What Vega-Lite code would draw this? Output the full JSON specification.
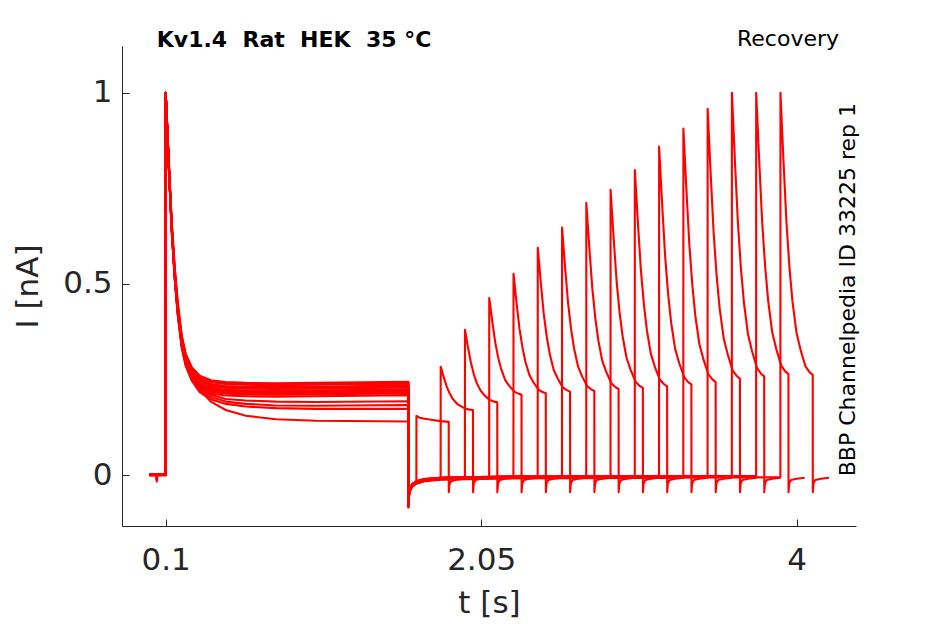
{
  "$schema": "https://vega.github.io/schema/vega-lite/v6.json",
  "width": 734,
  "height": 480,
  "autosize": {"type": "none"},
  "padding": {"left": 122, "top": 46, "right": 89, "bottom": 98},
  "background": "white",
  "config": {"view": {"stroke": null}, "font": "DejaVu Sans"},
  "layer": [
    {
      "data": {"values": [
        {"k":1,"t":0,"i":0.001},{"k":1,"t":0.042,"i":0},{"k":1,"t":0.045,"i":-0.017},{"k":1,"t":0.048,"i":0},{"k":1,"t":0.0995,"i":0.001},{"k":1,"t":0.1,"i":1},
        {"k":1,"t":0.1062,"i":0.942},{"k":1,"t":0.1186,"i":0.825},{"k":1,"t":0.1371,"i":0.666},{"k":1,"t":0.1557,"i":0.546},{"k":1,"t":0.1743,"i":0.453},{"k":1,"t":0.199,"i":0.365},{"k":1,"t":0.2238,"i":0.311},{"k":1,"t":0.261,"i":0.261},{"k":1,"t":0.3105,"i":0.223},{"k":1,"t":0.3786,"i":0.192},{"k":1,"t":0.4714,"i":0.17},{"k":1,"t":0.5952,"i":0.155},{"k":1,"t":0.781,"i":0.146},{"k":1,"t":1.029,"i":0.142},{"k":1,"t":1.6,"i":0.14},
        {"k":1,"t":1.6005,"i":-0.082},{"k":1,"t":1.604,"i":-0.052},{"k":1,"t":1.612,"i":-0.038},{"k":1,"t":1.625,"i":-0.03},{"k":1,"t":1.6495,"i":-0.022},
        {"k":1,"t":1.65,"i":0.155},{"k":1,"t":1.656,"i":0.153},{"k":1,"t":1.67,"i":0.15},{"k":1,"t":1.7,"i":0.147},{"k":1,"t":1.75,"i":0.144},{"k":1,"t":1.8,"i":0.141},{"k":1,"t":1.8495,"i":0.139},{"k":1,"t":1.85,"i":-0.045},{"k":1,"t":1.854,"i":-0.024},{"k":1,"t":1.865,"i":-0.016},{"k":1,"t":1.9,"i":-0.012},{"k":1,"t":1.95,"i":-0.009},

        {"k":2,"t":0,"i":0},{"k":2,"t":0.042,"i":0},{"k":2,"t":0.045,"i":-0.015},{"k":2,"t":0.048,"i":0},{"k":2,"t":0.0995,"i":0},{"k":2,"t":0.1,"i":1},
        {"k":2,"t":0.1062,"i":0.939},{"k":2,"t":0.1186,"i":0.816},{"k":2,"t":0.1371,"i":0.647},{"k":2,"t":0.1557,"i":0.523},{"k":2,"t":0.1743,"i":0.428},{"k":2,"t":0.199,"i":0.34},{"k":2,"t":0.2238,"i":0.289},{"k":2,"t":0.261,"i":0.247},{"k":2,"t":0.3105,"i":0.217},{"k":2,"t":0.3786,"i":0.198},{"k":2,"t":0.4714,"i":0.186},{"k":2,"t":0.5952,"i":0.179},{"k":2,"t":0.781,"i":0.175},{"k":2,"t":1.029,"i":0.173},{"k":2,"t":1.6,"i":0.173},
        {"k":2,"t":1.6005,"i":-0.078},{"k":2,"t":1.604,"i":-0.05},{"k":2,"t":1.612,"i":-0.036},{"k":2,"t":1.625,"i":-0.027},{"k":2,"t":1.65,"i":-0.02},{"k":2,"t":1.7,"i":-0.014},{"k":2,"t":1.7995,"i":-0.01},
        {"k":2,"t":1.8,"i":0.283},{"k":2,"t":1.8062,"i":0.274},{"k":2,"t":1.8186,"i":0.256},{"k":2,"t":1.8371,"i":0.231},{"k":2,"t":1.8557,"i":0.213},{"k":2,"t":1.8743,"i":0.199},{"k":2,"t":1.899,"i":0.187},{"k":2,"t":1.9238,"i":0.18},{"k":2,"t":1.9548,"i":0.173},{"k":2,"t":1.9795,"i":0.171},{"k":2,"t":1.9995,"i":0.17},{"k":2,"t":2.0,"i":-0.045},{"k":2,"t":2.004,"i":-0.022},{"k":2,"t":2.015,"i":-0.013},{"k":2,"t":2.05,"i":-0.01},{"k":2,"t":2.1,"i":-0.007},

        {"k":3,"t":0,"i":0.002},{"k":3,"t":0.0995,"i":0.002},{"k":3,"t":0.1,"i":1},
        {"k":3,"t":0.1062,"i":0.939},{"k":3,"t":0.1186,"i":0.816},{"k":3,"t":0.1371,"i":0.648},{"k":3,"t":0.1557,"i":0.524},{"k":3,"t":0.1743,"i":0.43},{"k":3,"t":0.199,"i":0.343},{"k":3,"t":0.2238,"i":0.292},{"k":3,"t":0.261,"i":0.251},{"k":3,"t":0.3105,"i":0.222},{"k":3,"t":0.3786,"i":0.204},{"k":3,"t":0.4714,"i":0.192},{"k":3,"t":0.5952,"i":0.186},{"k":3,"t":0.781,"i":0.182},{"k":3,"t":1.029,"i":0.181},{"k":3,"t":1.6,"i":0.183},
        {"k":3,"t":1.6005,"i":-0.085},{"k":3,"t":1.604,"i":-0.055},{"k":3,"t":1.612,"i":-0.04},{"k":3,"t":1.625,"i":-0.03},{"k":3,"t":1.65,"i":-0.022},{"k":3,"t":1.7,"i":-0.015},{"k":3,"t":1.8,"i":-0.01},{"k":3,"t":1.9495,"i":-0.008},
        {"k":3,"t":1.95,"i":0.38},{"k":3,"t":1.9562,"i":0.365},{"k":3,"t":1.9686,"i":0.334},{"k":3,"t":1.9871,"i":0.293},{"k":3,"t":2.0057,"i":0.262},{"k":3,"t":2.0243,"i":0.239},{"k":3,"t":2.049,"i":0.219},{"k":3,"t":2.0738,"i":0.207},{"k":3,"t":2.1048,"i":0.196},{"k":3,"t":2.1295,"i":0.192},{"k":3,"t":2.1495,"i":0.19},{"k":3,"t":2.15,"i":-0.045},{"k":3,"t":2.154,"i":-0.022},{"k":3,"t":2.165,"i":-0.013},{"k":3,"t":2.2,"i":-0.01},{"k":3,"t":2.25,"i":-0.007},

        {"k":4,"t":0,"i":-0.001},{"k":4,"t":0.042,"i":0},{"k":4,"t":0.045,"i":-0.012},{"k":4,"t":0.048,"i":0},{"k":4,"t":0.0995,"i":0},{"k":4,"t":0.1,"i":1},
        {"k":4,"t":0.1062,"i":0.939},{"k":4,"t":0.1186,"i":0.815},{"k":4,"t":0.1371,"i":0.647},{"k":4,"t":0.1557,"i":0.523},{"k":4,"t":0.1743,"i":0.429},{"k":4,"t":0.199,"i":0.342},{"k":4,"t":0.2238,"i":0.293},{"k":4,"t":0.261,"i":0.252},{"k":4,"t":0.3105,"i":0.226},{"k":4,"t":0.3786,"i":0.21},{"k":4,"t":0.4714,"i":0.199},{"k":4,"t":0.5952,"i":0.195},{"k":4,"t":0.781,"i":0.192},{"k":4,"t":1.029,"i":0.191},{"k":4,"t":1.6,"i":0.193},
        {"k":4,"t":1.6005,"i":-0.075},{"k":4,"t":1.604,"i":-0.046},{"k":4,"t":1.612,"i":-0.032},{"k":4,"t":1.625,"i":-0.024},{"k":4,"t":1.65,"i":-0.017},{"k":4,"t":1.7,"i":-0.011},{"k":4,"t":1.8,"i":-0.007},{"k":4,"t":2.0995,"i":-0.005},
        {"k":4,"t":2.1,"i":0.463},{"k":4,"t":2.1062,"i":0.443},{"k":4,"t":2.1186,"i":0.402},{"k":4,"t":2.1371,"i":0.347},{"k":4,"t":2.1557,"i":0.306},{"k":4,"t":2.1743,"i":0.276},{"k":4,"t":2.199,"i":0.248},{"k":4,"t":2.2238,"i":0.233},{"k":4,"t":2.2548,"i":0.218},{"k":4,"t":2.2795,"i":0.213},{"k":4,"t":2.2995,"i":0.21},{"k":4,"t":2.3,"i":-0.045},{"k":4,"t":2.304,"i":-0.022},{"k":4,"t":2.315,"i":-0.013},{"k":4,"t":2.35,"i":-0.01},{"k":4,"t":2.4,"i":-0.007},

        {"k":5,"t":0,"i":0.001},{"k":5,"t":0.0995,"i":0.001},{"k":5,"t":0.1,"i":1},
        {"k":5,"t":0.1062,"i":0.937},{"k":5,"t":0.1186,"i":0.812},{"k":5,"t":0.1371,"i":0.64},{"k":5,"t":0.1557,"i":0.514},{"k":5,"t":0.1743,"i":0.42},{"k":5,"t":0.199,"i":0.333},{"k":5,"t":0.2238,"i":0.285},{"k":5,"t":0.261,"i":0.248},{"k":5,"t":0.3105,"i":0.225},{"k":5,"t":0.3786,"i":0.213},{"k":5,"t":0.4714,"i":0.208},{"k":5,"t":0.5952,"i":0.206},{"k":5,"t":0.781,"i":0.205},{"k":5,"t":1.029,"i":0.206},{"k":5,"t":1.6,"i":0.209},
        {"k":5,"t":1.6005,"i":-0.08},{"k":5,"t":1.604,"i":-0.05},{"k":5,"t":1.612,"i":-0.035},{"k":5,"t":1.625,"i":-0.026},{"k":5,"t":1.65,"i":-0.019},{"k":5,"t":1.7,"i":-0.013},{"k":5,"t":1.8,"i":-0.009},{"k":5,"t":2.2,"i":-0.006},{"k":5,"t":2.2495,"i":-0.006},
        {"k":5,"t":2.25,"i":0.526},{"k":5,"t":2.2562,"i":0.501},{"k":5,"t":2.2686,"i":0.451},{"k":5,"t":2.2871,"i":0.382},{"k":5,"t":2.3057,"i":0.333},{"k":5,"t":2.3243,"i":0.295},{"k":5,"t":2.349,"i":0.261},{"k":5,"t":2.3738,"i":0.242},{"k":5,"t":2.4048,"i":0.223},{"k":5,"t":2.4295,"i":0.217},{"k":5,"t":2.4495,"i":0.214},{"k":5,"t":2.45,"i":-0.045},{"k":5,"t":2.454,"i":-0.022},{"k":5,"t":2.465,"i":-0.013},{"k":5,"t":2.5,"i":-0.01},{"k":5,"t":2.55,"i":-0.007},

        {"k":6,"t":0,"i":0},{"k":6,"t":0.0995,"i":0},{"k":6,"t":0.1,"i":1},
        {"k":6,"t":0.1062,"i":0.938},{"k":6,"t":0.1186,"i":0.813},{"k":6,"t":0.1371,"i":0.642},{"k":6,"t":0.1557,"i":0.517},{"k":6,"t":0.1743,"i":0.424},{"k":6,"t":0.199,"i":0.337},{"k":6,"t":0.2238,"i":0.29},{"k":6,"t":0.261,"i":0.253},{"k":6,"t":0.3105,"i":0.23},{"k":6,"t":0.3786,"i":0.218},{"k":6,"t":0.4714,"i":0.213},{"k":6,"t":0.5952,"i":0.211},{"k":6,"t":0.781,"i":0.21},{"k":6,"t":1.029,"i":0.211},{"k":6,"t":1.6,"i":0.214},
        {"k":6,"t":1.6005,"i":-0.07},{"k":6,"t":1.604,"i":-0.045},{"k":6,"t":1.612,"i":-0.031},{"k":6,"t":1.625,"i":-0.023},{"k":6,"t":1.65,"i":-0.016},{"k":6,"t":1.7,"i":-0.01},{"k":6,"t":1.8,"i":-0.007},{"k":6,"t":2.2,"i":-0.004},{"k":6,"t":2.3995,"i":-0.004},
        {"k":6,"t":2.4,"i":0.594},{"k":6,"t":2.4062,"i":0.564},{"k":6,"t":2.4186,"i":0.504},{"k":6,"t":2.4371,"i":0.421},{"k":6,"t":2.4557,"i":0.361},{"k":6,"t":2.4743,"i":0.316},{"k":6,"t":2.499,"i":0.274},{"k":6,"t":2.5238,"i":0.252},{"k":6,"t":2.5548,"i":0.229},{"k":6,"t":2.5795,"i":0.222},{"k":6,"t":2.5995,"i":0.218},{"k":6,"t":2.6,"i":-0.045},{"k":6,"t":2.604,"i":-0.022},{"k":6,"t":2.615,"i":-0.013},{"k":6,"t":2.65,"i":-0.01},{"k":6,"t":2.7,"i":-0.007},

        {"k":7,"t":0,"i":0.002},{"k":7,"t":0.0995,"i":0.002},{"k":7,"t":0.1,"i":1},
        {"k":7,"t":0.1062,"i":0.938},{"k":7,"t":0.1186,"i":0.815},{"k":7,"t":0.1371,"i":0.645},{"k":7,"t":0.1557,"i":0.521},{"k":7,"t":0.1743,"i":0.427},{"k":7,"t":0.199,"i":0.341},{"k":7,"t":0.2238,"i":0.294},{"k":7,"t":0.261,"i":0.258},{"k":7,"t":0.3105,"i":0.235},{"k":7,"t":0.3786,"i":0.223},{"k":7,"t":0.4714,"i":0.218},{"k":7,"t":0.5952,"i":0.216},{"k":7,"t":0.781,"i":0.215},{"k":7,"t":1.029,"i":0.216},{"k":7,"t":1.6,"i":0.219},
        {"k":7,"t":1.6005,"i":-0.083},{"k":7,"t":1.604,"i":-0.053},{"k":7,"t":1.612,"i":-0.038},{"k":7,"t":1.625,"i":-0.028},{"k":7,"t":1.65,"i":-0.021},{"k":7,"t":1.7,"i":-0.015},{"k":7,"t":1.8,"i":-0.011},{"k":7,"t":2.2,"i":-0.008},{"k":7,"t":2.5495,"i":-0.007},
        {"k":7,"t":2.55,"i":0.647},{"k":7,"t":2.5562,"i":0.613},{"k":7,"t":2.5686,"i":0.545},{"k":7,"t":2.5871,"i":0.451},{"k":7,"t":2.6057,"i":0.382},{"k":7,"t":2.6243,"i":0.331},{"k":7,"t":2.649,"i":0.284},{"k":7,"t":2.6738,"i":0.258},{"k":7,"t":2.7048,"i":0.233},{"k":7,"t":2.7295,"i":0.224},{"k":7,"t":2.7495,"i":0.22},{"k":7,"t":2.75,"i":-0.045},{"k":7,"t":2.754,"i":-0.022},{"k":7,"t":2.765,"i":-0.013},{"k":7,"t":2.8,"i":-0.01},{"k":7,"t":2.85,"i":-0.007},

        {"k":8,"t":0,"i":0},{"k":8,"t":0.0995,"i":0},{"k":8,"t":0.1,"i":1},
        {"k":8,"t":0.1062,"i":0.939},{"k":8,"t":0.1186,"i":0.816},{"k":8,"t":0.1371,"i":0.647},{"k":8,"t":0.1557,"i":0.524},{"k":8,"t":0.1743,"i":0.431},{"k":8,"t":0.199,"i":0.346},{"k":8,"t":0.2238,"i":0.299},{"k":8,"t":0.261,"i":0.263},{"k":8,"t":0.3105,"i":0.24},{"k":8,"t":0.3786,"i":0.228},{"k":8,"t":0.4714,"i":0.223},{"k":8,"t":0.5952,"i":0.221},{"k":8,"t":0.781,"i":0.22},{"k":8,"t":1.029,"i":0.221},{"k":8,"t":1.6,"i":0.224},
        {"k":8,"t":1.6005,"i":-0.077},{"k":8,"t":1.604,"i":-0.048},{"k":8,"t":1.612,"i":-0.034},{"k":8,"t":1.625,"i":-0.025},{"k":8,"t":1.65,"i":-0.018},{"k":8,"t":1.7,"i":-0.012},{"k":8,"t":1.8,"i":-0.008},{"k":8,"t":2.2,"i":-0.005},{"k":8,"t":2.6995,"i":-0.004},
        {"k":8,"t":2.7,"i":0.712},{"k":8,"t":2.7062,"i":0.673},{"k":8,"t":2.7186,"i":0.595},{"k":8,"t":2.7371,"i":0.488},{"k":8,"t":2.7557,"i":0.41},{"k":8,"t":2.7743,"i":0.352},{"k":8,"t":2.799,"i":0.298},{"k":8,"t":2.8238,"i":0.269},{"k":8,"t":2.8548,"i":0.24},{"k":8,"t":2.8795,"i":0.23},{"k":8,"t":2.8995,"i":0.225},{"k":8,"t":2.9,"i":-0.045},{"k":8,"t":2.904,"i":-0.022},{"k":8,"t":2.915,"i":-0.013},{"k":8,"t":2.95,"i":-0.01},{"k":8,"t":3.0,"i":-0.007},

        {"k":9,"t":0,"i":0.001},{"k":9,"t":0.0995,"i":0.001},{"k":9,"t":0.1,"i":1},
        {"k":9,"t":0.1062,"i":0.938},{"k":9,"t":0.1186,"i":0.814},{"k":9,"t":0.1371,"i":0.643},{"k":9,"t":0.1557,"i":0.519},{"k":9,"t":0.1743,"i":0.425},{"k":9,"t":0.199,"i":0.339},{"k":9,"t":0.2238,"i":0.291},{"k":9,"t":0.261,"i":0.255},{"k":9,"t":0.3105,"i":0.232},{"k":9,"t":0.3786,"i":0.22},{"k":9,"t":0.4714,"i":0.215},{"k":9,"t":0.5952,"i":0.213},{"k":9,"t":0.781,"i":0.212},{"k":9,"t":1.029,"i":0.213},{"k":9,"t":1.6,"i":0.216},
        {"k":9,"t":1.6005,"i":-0.081},{"k":9,"t":1.604,"i":-0.051},{"k":9,"t":1.612,"i":-0.036},{"k":9,"t":1.625,"i":-0.027},{"k":9,"t":1.65,"i":-0.02},{"k":9,"t":1.7,"i":-0.014},{"k":9,"t":1.8,"i":-0.01},{"k":9,"t":2.2,"i":-0.007},{"k":9,"t":2.8495,"i":-0.006},
        {"k":9,"t":2.85,"i":0.746},{"k":9,"t":2.8562,"i":0.705},{"k":9,"t":2.8686,"i":0.622},{"k":9,"t":2.8871,"i":0.508},{"k":9,"t":2.9057,"i":0.425},{"k":9,"t":2.9243,"i":0.363},{"k":9,"t":2.949,"i":0.306},{"k":9,"t":2.9738,"i":0.275},{"k":9,"t":3.0048,"i":0.244},{"k":9,"t":3.0295,"i":0.233},{"k":9,"t":3.0495,"i":0.228},{"k":9,"t":3.05,"i":-0.045},{"k":9,"t":3.054,"i":-0.022},{"k":9,"t":3.065,"i":-0.013},{"k":9,"t":3.1,"i":-0.01},{"k":9,"t":3.15,"i":-0.007},

        {"k":10,"t":0,"i":-0.001},{"k":10,"t":0.0995,"i":-0.001},{"k":10,"t":0.1,"i":1},
        {"k":10,"t":0.1062,"i":0.939},{"k":10,"t":0.1186,"i":0.817},{"k":10,"t":0.1371,"i":0.649},{"k":10,"t":0.1557,"i":0.527},{"k":10,"t":0.1743,"i":0.435},{"k":10,"t":0.199,"i":0.35},{"k":10,"t":0.2238,"i":0.303},{"k":10,"t":0.261,"i":0.267},{"k":10,"t":0.3105,"i":0.245},{"k":10,"t":0.3786,"i":0.233},{"k":10,"t":0.4714,"i":0.228},{"k":10,"t":0.5952,"i":0.226},{"k":10,"t":0.781,"i":0.225},{"k":10,"t":1.029,"i":0.226},{"k":10,"t":1.6,"i":0.229},
        {"k":10,"t":1.6005,"i":-0.074},{"k":10,"t":1.604,"i":-0.047},{"k":10,"t":1.612,"i":-0.033},{"k":10,"t":1.625,"i":-0.024},{"k":10,"t":1.65,"i":-0.017},{"k":10,"t":1.7,"i":-0.011},{"k":10,"t":1.8,"i":-0.007},{"k":10,"t":2.2,"i":-0.004},{"k":10,"t":2.9995,"i":-0.003},
        {"k":10,"t":3.0,"i":0.798},{"k":10,"t":3.0062,"i":0.753},{"k":10,"t":3.0186,"i":0.662},{"k":10,"t":3.0371,"i":0.538},{"k":10,"t":3.0557,"i":0.447},{"k":10,"t":3.0743,"i":0.379},{"k":10,"t":3.099,"i":0.317},{"k":10,"t":3.1238,"i":0.283},{"k":10,"t":3.1548,"i":0.249},{"k":10,"t":3.1795,"i":0.238},{"k":10,"t":3.1995,"i":0.232},{"k":10,"t":3.2,"i":-0.045},{"k":10,"t":3.204,"i":-0.022},{"k":10,"t":3.215,"i":-0.013},{"k":10,"t":3.25,"i":-0.01},{"k":10,"t":3.3,"i":-0.007},

        {"k":11,"t":0,"i":0.001},{"k":11,"t":0.0995,"i":0.001},{"k":11,"t":0.1,"i":1},
        {"k":11,"t":0.1062,"i":0.939},{"k":11,"t":0.1186,"i":0.818},{"k":11,"t":0.1371,"i":0.651},{"k":11,"t":0.1557,"i":0.53},{"k":11,"t":0.1743,"i":0.438},{"k":11,"t":0.199,"i":0.354},{"k":11,"t":0.2238,"i":0.308},{"k":11,"t":0.261,"i":0.272},{"k":11,"t":0.3105,"i":0.25},{"k":11,"t":0.3786,"i":0.238},{"k":11,"t":0.4714,"i":0.233},{"k":11,"t":0.5952,"i":0.231},{"k":11,"t":0.781,"i":0.23},{"k":11,"t":1.029,"i":0.231},{"k":11,"t":1.6,"i":0.234},
        {"k":11,"t":1.6005,"i":-0.079},{"k":11,"t":1.604,"i":-0.05},{"k":11,"t":1.612,"i":-0.035},{"k":11,"t":1.625,"i":-0.026},{"k":11,"t":1.65,"i":-0.019},{"k":11,"t":1.7,"i":-0.013},{"k":11,"t":1.8,"i":-0.009},{"k":11,"t":2.2,"i":-0.006},{"k":11,"t":3.0,"i":-0.005},{"k":11,"t":3.1495,"i":-0.005},
        {"k":11,"t":3.15,"i":0.859},{"k":11,"t":3.1562,"i":0.809},{"k":11,"t":3.1686,"i":0.71},{"k":11,"t":3.1871,"i":0.573},{"k":11,"t":3.2057,"i":0.473},{"k":11,"t":3.2243,"i":0.399},{"k":11,"t":3.249,"i":0.33},{"k":11,"t":3.2738,"i":0.293},{"k":11,"t":3.3048,"i":0.256},{"k":11,"t":3.3295,"i":0.243},{"k":11,"t":3.3495,"i":0.237},{"k":11,"t":3.35,"i":-0.045},{"k":11,"t":3.354,"i":-0.022},{"k":11,"t":3.365,"i":-0.013},{"k":11,"t":3.4,"i":-0.01},{"k":11,"t":3.45,"i":-0.007},

        {"k":12,"t":0,"i":0},{"k":12,"t":0.0995,"i":0},{"k":12,"t":0.1,"i":1},
        {"k":12,"t":0.1062,"i":0.938},{"k":12,"t":0.1186,"i":0.815},{"k":12,"t":0.1371,"i":0.646},{"k":12,"t":0.1557,"i":0.522},{"k":12,"t":0.1743,"i":0.43},{"k":12,"t":0.199,"i":0.344},{"k":12,"t":0.2238,"i":0.297},{"k":12,"t":0.261,"i":0.261},{"k":12,"t":0.3105,"i":0.238},{"k":12,"t":0.3786,"i":0.226},{"k":12,"t":0.4714,"i":0.221},{"k":12,"t":0.5952,"i":0.219},{"k":12,"t":0.781,"i":0.218},{"k":12,"t":1.029,"i":0.219},{"k":12,"t":1.6,"i":0.222},
        {"k":12,"t":1.6005,"i":-0.084},{"k":12,"t":1.604,"i":-0.054},{"k":12,"t":1.612,"i":-0.039},{"k":12,"t":1.625,"i":-0.029},{"k":12,"t":1.65,"i":-0.022},{"k":12,"t":1.7,"i":-0.016},{"k":12,"t":1.8,"i":-0.012},{"k":12,"t":2.2,"i":-0.009},{"k":12,"t":3.0,"i":-0.008},{"k":12,"t":3.2995,"i":-0.008},
        {"k":12,"t":3.3,"i":0.906},{"k":12,"t":3.3062,"i":0.853},{"k":12,"t":3.3186,"i":0.747},{"k":12,"t":3.3371,"i":0.601},{"k":12,"t":3.3557,"i":0.495},{"k":12,"t":3.3743,"i":0.415},{"k":12,"t":3.399,"i":0.342},{"k":12,"t":3.4238,"i":0.303},{"k":12,"t":3.4548,"i":0.263},{"k":12,"t":3.4795,"i":0.25},{"k":12,"t":3.4995,"i":0.243},{"k":12,"t":3.5,"i":-0.045},{"k":12,"t":3.504,"i":-0.022},{"k":12,"t":3.515,"i":-0.013},{"k":12,"t":3.55,"i":-0.01},{"k":12,"t":3.6,"i":-0.007},

        {"k":13,"t":0,"i":0.002},{"k":13,"t":0.0995,"i":0.002},{"k":13,"t":0.1,"i":1},
        {"k":13,"t":0.1062,"i":0.94},{"k":13,"t":0.1186,"i":0.819},{"k":13,"t":0.1371,"i":0.654},{"k":13,"t":0.1557,"i":0.533},{"k":13,"t":0.1743,"i":0.442},{"k":13,"t":0.199,"i":0.358},{"k":13,"t":0.2238,"i":0.312},{"k":13,"t":0.261,"i":0.277},{"k":13,"t":0.3105,"i":0.255},{"k":13,"t":0.3786,"i":0.243},{"k":13,"t":0.4714,"i":0.238},{"k":13,"t":0.5952,"i":0.236},{"k":13,"t":0.781,"i":0.235},{"k":13,"t":1.029,"i":0.236},{"k":13,"t":1.6,"i":0.239},
        {"k":13,"t":1.6005,"i":-0.076},{"k":13,"t":1.604,"i":-0.048},{"k":13,"t":1.612,"i":-0.034},{"k":13,"t":1.625,"i":-0.025},{"k":13,"t":1.65,"i":-0.018},{"k":13,"t":1.7,"i":-0.012},{"k":13,"t":1.8,"i":-0.008},{"k":13,"t":2.2,"i":-0.005},{"k":13,"t":3.0,"i":-0.004},{"k":13,"t":3.4495,"i":-0.003},
        {"k":13,"t":3.45,"i":0.958},{"k":13,"t":3.4562,"i":0.902},{"k":13,"t":3.4686,"i":0.789},{"k":13,"t":3.4871,"i":0.633},{"k":13,"t":3.5057,"i":0.52},{"k":13,"t":3.5243,"i":0.436},{"k":13,"t":3.549,"i":0.358},{"k":13,"t":3.5738,"i":0.316},{"k":13,"t":3.6048,"i":0.273},{"k":13,"t":3.6295,"i":0.259},{"k":13,"t":3.6495,"i":0.252},{"k":13,"t":3.65,"i":-0.045},{"k":13,"t":3.654,"i":-0.022},{"k":13,"t":3.665,"i":-0.013},{"k":13,"t":3.7,"i":-0.01},{"k":13,"t":3.75,"i":-0.007},

        {"k":14,"t":0,"i":0},{"k":14,"t":0.0995,"i":0},{"k":14,"t":0.1,"i":1},
        {"k":14,"t":0.1062,"i":0.939},{"k":14,"t":0.1186,"i":0.818},{"k":14,"t":0.1371,"i":0.65},{"k":14,"t":0.1557,"i":0.529},{"k":14,"t":0.1743,"i":0.437},{"k":14,"t":0.199,"i":0.352},{"k":14,"t":0.2238,"i":0.306},{"k":14,"t":0.261,"i":0.27},{"k":14,"t":0.3105,"i":0.248},{"k":14,"t":0.3786,"i":0.236},{"k":14,"t":0.4714,"i":0.231},{"k":14,"t":0.5952,"i":0.229},{"k":14,"t":0.781,"i":0.228},{"k":14,"t":1.029,"i":0.229},{"k":14,"t":1.6,"i":0.232},
        {"k":14,"t":1.6005,"i":-0.08},{"k":14,"t":1.604,"i":-0.05},{"k":14,"t":1.612,"i":-0.036},{"k":14,"t":1.625,"i":-0.027},{"k":14,"t":1.65,"i":-0.02},{"k":14,"t":1.7,"i":-0.014},{"k":14,"t":1.8,"i":-0.01},{"k":14,"t":2.2,"i":-0.007},{"k":14,"t":3.0,"i":-0.006},{"k":14,"t":3.5995,"i":-0.005},
        {"k":14,"t":3.6,"i":1},{"k":14,"t":3.6062,"i":0.941},{"k":14,"t":3.6186,"i":0.822},{"k":14,"t":3.6371,"i":0.659},{"k":14,"t":3.6557,"i":0.54},{"k":14,"t":3.6743,"i":0.451},{"k":14,"t":3.699,"i":0.369},{"k":14,"t":3.7238,"i":0.325},{"k":14,"t":3.7548,"i":0.28},{"k":14,"t":3.7795,"i":0.265},{"k":14,"t":3.7995,"i":0.258},{"k":14,"t":3.8,"i":-0.045},{"k":14,"t":3.804,"i":-0.022},{"k":14,"t":3.815,"i":-0.013},{"k":14,"t":3.85,"i":-0.01},{"k":14,"t":3.9,"i":-0.007},

        {"k":15,"t":0,"i":0.001},{"k":15,"t":0.0995,"i":0.001},{"k":15,"t":0.1,"i":1},
        {"k":15,"t":0.1062,"i":0.94},{"k":15,"t":0.1186,"i":0.821},{"k":15,"t":0.1371,"i":0.656},{"k":15,"t":0.1557,"i":0.536},{"k":15,"t":0.1743,"i":0.446},{"k":15,"t":0.199,"i":0.363},{"k":15,"t":0.2238,"i":0.317},{"k":15,"t":0.261,"i":0.282},{"k":15,"t":0.3105,"i":0.26},{"k":15,"t":0.3786,"i":0.248},{"k":15,"t":0.4714,"i":0.243},{"k":15,"t":0.5952,"i":0.241},{"k":15,"t":0.781,"i":0.24},{"k":15,"t":1.029,"i":0.241},{"k":15,"t":1.6,"i":0.244},
        {"k":15,"t":1.6005,"i":-0.073},{"k":15,"t":1.604,"i":-0.046},{"k":15,"t":1.612,"i":-0.032},{"k":15,"t":1.625,"i":-0.024},{"k":15,"t":1.65,"i":-0.017},{"k":15,"t":1.7,"i":-0.011},{"k":15,"t":1.8,"i":-0.007},{"k":15,"t":2.2,"i":-0.004},{"k":15,"t":3.0,"i":-0.003},{"k":15,"t":3.7495,"i":-0.003},
        {"k":15,"t":3.75,"i":1},{"k":15,"t":3.7562,"i":0.941},{"k":15,"t":3.7686,"i":0.823},{"k":15,"t":3.7871,"i":0.661},{"k":15,"t":3.8057,"i":0.544},{"k":15,"t":3.8243,"i":0.455},{"k":15,"t":3.849,"i":0.374},{"k":15,"t":3.8738,"i":0.33},{"k":15,"t":3.9048,"i":0.286},{"k":15,"t":3.9295,"i":0.271},{"k":15,"t":3.9495,"i":0.264},{"k":15,"t":3.95,"i":-0.045},{"k":15,"t":3.954,"i":-0.022},{"k":15,"t":3.965,"i":-0.013},{"k":15,"t":4.0,"i":-0.01},{"k":15,"t":4.05,"i":-0.007},

        {"k":16,"t":0,"i":0},{"k":16,"t":0.0995,"i":0},{"k":16,"t":0.1,"i":1},
        {"k":16,"t":0.1062,"i":0.94},{"k":16,"t":0.1186,"i":0.82},{"k":16,"t":0.1371,"i":0.655},{"k":16,"t":0.1557,"i":0.535},{"k":16,"t":0.1743,"i":0.444},{"k":16,"t":0.199,"i":0.361},{"k":16,"t":0.2238,"i":0.315},{"k":16,"t":0.261,"i":0.28},{"k":16,"t":0.3105,"i":0.258},{"k":16,"t":0.3786,"i":0.246},{"k":16,"t":0.4714,"i":0.241},{"k":16,"t":0.5952,"i":0.239},{"k":16,"t":0.781,"i":0.238},{"k":16,"t":1.029,"i":0.239},{"k":16,"t":1.6,"i":0.242},
        {"k":16,"t":1.6005,"i":-0.082},{"k":16,"t":1.604,"i":-0.052},{"k":16,"t":1.612,"i":-0.037},{"k":16,"t":1.625,"i":-0.028},{"k":16,"t":1.65,"i":-0.021},{"k":16,"t":1.7,"i":-0.015},{"k":16,"t":1.8,"i":-0.011},{"k":16,"t":2.2,"i":-0.008},{"k":16,"t":3.0,"i":-0.007},{"k":16,"t":3.8995,"i":-0.006},
        {"k":16,"t":3.9,"i":1},{"k":16,"t":3.9062,"i":0.941},{"k":16,"t":3.9186,"i":0.823},{"k":16,"t":3.9371,"i":0.661},{"k":16,"t":3.9557,"i":0.542},{"k":16,"t":3.9743,"i":0.454},{"k":16,"t":3.999,"i":0.373},{"k":16,"t":4.0238,"i":0.328},{"k":16,"t":4.0548,"i":0.284},{"k":16,"t":4.0795,"i":0.269},{"k":16,"t":4.0995,"i":0.262},{"k":16,"t":4.1,"i":-0.045},{"k":16,"t":4.104,"i":-0.022},{"k":16,"t":4.115,"i":-0.013},{"k":16,"t":4.15,"i":-0.01},{"k":16,"t":4.2,"i":-0.007}
      ]},
      "mark": {"type": "line", "color": "#ff0000", "strokeWidth": 2.1, "strokeJoin": "round", "clip": true},
      "encoding": {
        "x": {
          "field": "t",
          "type": "quantitative",
          "title": "t [s]",
          "scale": {"domain": [-0.17, 4.367], "nice": false, "zero": false},
          "axis": {
            "values": [0.1, 2.05, 4],
            "format": ".3~g",
            "grid": false,
            "domainColor": "#262626",
            "tickColor": "#262626",
            "tickSize": -7,
            "labelPadding": 26,
            "labelFontSize": 31,
            "labelColor": "#262626",
            "labelFont": "DejaVu Sans",
            "titleFontSize": 31,
            "titleFontWeight": "normal",
            "titleColor": "#262626",
            "titleFont": "DejaVu Sans",
            "titlePadding": 13
          }
        },
        "y": {
          "field": "i",
          "type": "quantitative",
          "title": "I [nA]",
          "scale": {"domain": [-0.1334, 1.1222], "nice": false, "zero": false},
          "axis": {
            "values": [0, 0.5, 1],
            "format": ".2~g",
            "grid": false,
            "domainColor": "#262626",
            "tickColor": "#262626",
            "tickSize": -7,
            "labelPadding": 17,
            "labelFontSize": 31,
            "labelColor": "#262626",
            "labelFont": "DejaVu Sans",
            "titleFontSize": 31,
            "titleFontWeight": "normal",
            "titleColor": "#262626",
            "titleFont": "DejaVu Sans",
            "titlePadding": 18
          }
        },
        "detail": {"field": "k", "type": "nominal"}
      }
    },
    {
      "data": {"values": [{}]},
      "mark": {"type": "text", "text": "Kv1.4 \u00a0Rat \u00a0HEK \u00a035 °C", "font": "DejaVu Sans", "fontWeight": "bold", "fontSize": 22, "align": "left", "baseline": "alphabetic", "color": "black", "clip": false},
      "encoding": {"x": {"datum": 0.045}, "y": {"datum": 1.1203}}
    },
    {
      "data": {"values": [{}]},
      "mark": {"type": "text", "text": "Recovery", "font": "DejaVu Sans", "fontSize": 22, "align": "right", "baseline": "alphabetic", "color": "black", "clip": false},
      "encoding": {"x": {"datum": 4.262}, "y": {"datum": 1.122}}
    },
    {
      "data": {"values": [{}]},
      "mark": {"type": "text", "text": "BBP Channelpedia ID 33225 rep 1", "font": "DejaVu Sans", "fontSize": 22, "angle": 270, "align": "center", "baseline": "alphabetic", "color": "black", "clip": false},
      "encoding": {"x": {"datum": 4.36}, "y": {"datum": 0.485}}
    }
  ]
}
